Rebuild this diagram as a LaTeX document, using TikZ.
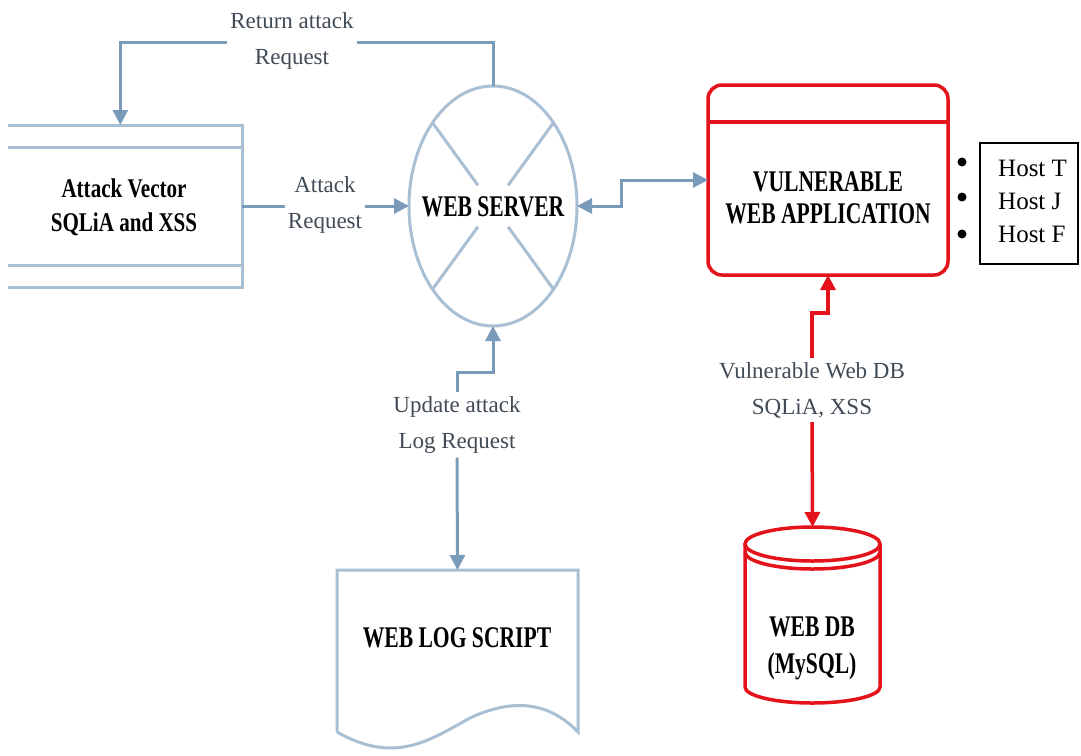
\documentclass[tikz,border=0pt]{standalone}
\usepackage{fontspec}
\setmainfont{Liberation Serif}
\newfontfamily\condensed{Liberation Serif}[FakeStretch=0.72]
\newfontfamily\narrow{Liberation Serif}[FakeStretch=0.78]
\usetikzlibrary{arrows.meta,shapes.geometric,calc}
\definecolor{flow}{HTML}{7A9AB9}
\definecolor{frame}{HTML}{A9BFD4}
\definecolor{alert}{HTML}{E3121B}
\definecolor{caption}{HTML}{414B56}
\tikzset{
  tip/.style={-{Triangle[length=15pt,width=15pt]}},
  flowline/.style={draw=flow, line width=3pt},
  flowarrow/.style={flowline, tip},
  flowboth/.style={flowline, {Triangle[length=15pt,width=15pt]}-{Triangle[length=15pt,width=15pt]}},
  frameline/.style={draw=frame, line width=3pt},
  alertline/.style={draw=alert, line width=3.5pt},
  alertarrow/.style={alertline, tip},
  flowlabel/.style={font=\fontsize{23}{36}\selectfont, text=caption, align=center, inner xsep=3pt, inner ysep=4pt},
  boxtext/.style={font=\condensed\bfseries\fontsize{30}{32}\selectfont, align=center, inner sep=0pt},
  area/.style={inner sep=0pt, outer sep=0pt}
}
\begin{document}
\begin{tikzpicture}[x=1pt,y=-1pt]
\useasboundingbox[fill=white] (0,0) rectangle (1081,755);

% web server
\node[ellipse, draw=frame, line width=3pt, minimum width=168pt, minimum height=240pt, area] (ws) at (493,206) {};
\node[boxtext] (wstext) at (493,207) {WEB SERVER};
\foreach \a in {126,54,234,306}
  \draw[frameline] (ws.\a) -- ($(ws.\a)!0.75!(ws.center)$);

% attack vector store
\node[area, minimum width=234pt, minimum height=162pt] (av) at (125,206) {};
\node[boxtext, font=\narrow\bfseries\fontsize{27}{34}\selectfont] (avtext) at (124,207) {Attack Vector\\SQLiA and XSS};
\draw[frameline] (av.north west) -- (av.north east) -- (av.south east) -- (av.south west);
\draw[frameline] ($(av.north west)+(0,22)$) -- ($(av.north east)+(0,22)$);
\draw[frameline] ($(av.south west)+(0,-22)$) -- ($(av.south east)+(0,-22)$);
\coordinate (avin) at ($(av.north west)!0.48!(av.north east)$);

% attack request
\node[flowlabel] (lblatk) at (325,205) {Attack\\Request};
\draw[flowline] (av.east) -- (lblatk.west |- av.east);
\draw[flowarrow] (lblatk.east |- ws.west) -- (ws.west);

% return attack request
\node[flowlabel] (lblret) at (292,41) {Return attack\\Request};
\draw[flowline] (ws.north) |- (lblret.east |- 0,42);
\draw[flowarrow] (lblret.west |- 0,42) -| (avin);

% vulnerable web application
\node[draw=alert, line width=3.5pt, rounded corners=14pt, minimum width=240pt, minimum height=190pt, area] (va) at (828,180) {};
\draw[alertline] (va.west |- 0,122) -- (va.east |- 0,122);
\node[boxtext, font=\condensed\bfseries\fontsize{30}{32}\selectfont] (vatext) at (828,198) {VULNERABLE\\WEB APPLICATION};
\draw[flowboth] (ws.east) -- ++(44,0) |- (va.west);

% hosts
\foreach \y in {162,197,234}
  \fill (962,\y) circle[radius=4.5pt];
\node[draw=black, line width=1.5pt, anchor=north west, minimum width=98pt, minimum height=121pt, area] (hosts) at (980,143) {};
\node[anchor=west, align=left, inner sep=0pt, font=\fontsize{25}{33}\selectfont] (hosttext) at (998,201) {Host T\\Host J\\Host F};

% web database
\node[area, minimum width=135pt, minimum height=176pt] (db) at (812.5,615) {};
\draw[alertline] ($(db.north)+(0,17)$) ellipse[x radius=67.5pt, y radius=17pt];
\draw[alertline] ($(db.north west)+(0,17)$) -- ($(db.south west)+(0,-16)$)
  arc[start angle=180, end angle=360, x radius=67.5pt, y radius=16pt] -- ($(db.north east)+(0,17)$);
\draw[alertline] ($(db.north west)+(0,25)$) arc[start angle=180, end angle=360, x radius=67.5pt, y radius=17pt];
\node[boxtext, font=\condensed\bfseries\fontsize{30}{37}\selectfont] (dbtext) at (812,648) {WEB DB\\(MySQL)};

\node[flowlabel] (lbldb) at (812,390) {Vulnerable Web DB\\SQLiA, XSS};
\draw[alertarrow] (lbldb.north) -- ++(0,-45) -| (va.south);
\draw[alertarrow] (lbldb.south) -- (db.north);

% web log script
\node[area, minimum width=241pt, minimum height=162pt] (log) at (457.5,651) {};
\draw[frameline] (log.south west) -- (log.north west) -- (log.north east) -- (log.south east)
  .. controls (550,703) and (515,697) .. (470,718)
  .. controls (430,740) and (395,765) .. (log.south west);
\node[boxtext] (logtext) at (457,638) {WEB LOG SCRIPT};

\node[flowlabel] (lblupd) at (457,425) {Update attack\\Log Request};
\draw[flowarrow] (lblupd.north) -- ++(0,-20) -| (ws.south);
\draw[flowarrow] (lblupd.south) -- (log.north);
\end{tikzpicture}
\end{document}
